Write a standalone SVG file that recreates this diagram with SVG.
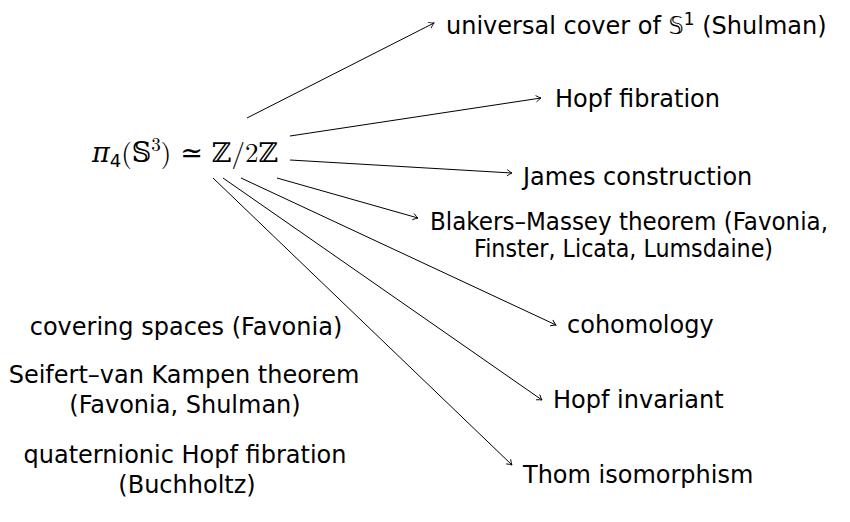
<svg xmlns="http://www.w3.org/2000/svg" width="850" height="522" viewBox="0 0 850 522">
<defs>
<marker id="arr" markerUnits="userSpaceOnUse" markerWidth="12" markerHeight="12" viewBox="-8 -6 10 12" refX="0" refY="0" orient="auto">
<path d="M -5 -3.2 Q -1.5 -0.6 0 0 Q -1.5 0.6 -5 3.2" fill="none" stroke="#000" stroke-width="0.9"/>
</marker>
<style>
.t{font-family:"DejaVu Sans",sans-serif;font-size:24px;fill:#000}
.m{font-family:"Latin Modern Roman","DejaVu Serif","Liberation Serif",serif;font-size:27px;fill:#000}
.c{stroke:#000;stroke-width:1;fill:none;marker-end:url(#arr)}
</style>
</defs>
<rect width="850" height="522" fill="#fff"/>
<g id="connectors">
<line class="c" x1="247" y1="118" x2="434" y2="23"/>
<line class="c" x1="290" y1="136" x2="541" y2="98"/>
<line class="c" x1="290" y1="160" x2="512" y2="173"/>
<line class="c" x1="277" y1="178" x2="418" y2="218"/>
<line class="c" x1="241" y1="178" x2="556" y2="325"/>
<line class="c" x1="223" y1="178" x2="542" y2="400"/>
<line class="c" x1="213" y1="178" x2="512" y2="465"/>
</g>
<g id="center">
<text class="m" x="92" y="162"><tspan font-style="italic">π</tspan><tspan font-family="DejaVu Sans,sans-serif" font-size="18" dy="5">4</tspan><tspan dy="-5">(𝕊</tspan><tspan font-size="19" dy="-11">3</tspan><tspan dy="11">) ≃ ℤ/2ℤ</tspan></text>
</g>
<g id="n1"><text class="t" x="446" y="34">universal cover of 𝕊<tspan font-size="17" dy="-9">1</tspan><tspan dy="9"> (Shulman)</tspan></text></g>
<g id="n2"><text class="t" x="555" y="107">Hopf fibration</text></g>
<g id="n3"><text class="t" x="523" y="185">James construction</text></g>
<g id="n4"><text class="t"><tspan x="430" y="230" textLength="398" lengthAdjust="spacingAndGlyphs">Blakers–Massey theorem (Favonia,</tspan><tspan x="474" y="257" textLength="299" lengthAdjust="spacingAndGlyphs">Finster, Licata, Lumsdaine)</tspan></text></g>
<g id="n5"><text class="t" x="567" y="333">cohomology</text></g>
<g id="n6"><text class="t" x="553" y="408">Hopf invariant</text></g>
<g id="n7"><text class="t" x="523" y="483">Thom isomorphism</text></g>
<g id="n8"><text class="t" x="186" y="335" text-anchor="middle">covering spaces (Favonia)</text></g>
<g id="n9"><text class="t" text-anchor="middle"><tspan x="184" y="383">Seifert–van Kampen theorem</tspan><tspan x="185" y="413">(Favonia, Shulman)</tspan></text></g>
<g id="n10"><text class="t" text-anchor="middle"><tspan x="185" y="463">quaternionic Hopf fibration</tspan><tspan x="187" y="493">(Buchholtz)</tspan></text></g>
</svg>
